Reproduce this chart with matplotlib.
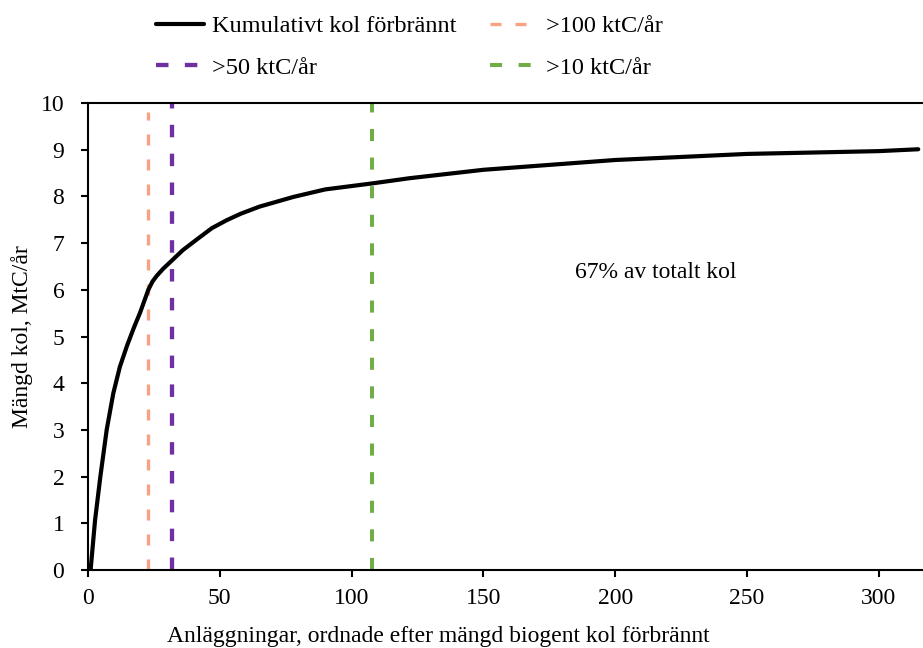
import matplotlib.pyplot as plt

plt.rcParams['font.family'] = ['Liberation Serif', 'DejaVu Serif']
plt.rcParams['font.size'] = 17

# cumulative burned carbon vs facilities (sorted)
anl = [1, 2.7, 4.7, 7.1, 9.6, 12.1, 14.8, 17.5, 19.7, 22.9, 24.5, 26.1, 28.5, 31.7, 36, 41.8, 47, 52.6, 58, 65, 78, 90, 108, 122, 150, 200, 250, 300, 315]
kol = [0, 1.07, 2.0, 3.0, 3.78, 4.35, 4.8, 5.2, 5.5, 6.0, 6.18, 6.3, 6.45, 6.62, 6.85, 7.1, 7.32, 7.49, 7.63, 7.78, 7.99, 8.15, 8.28, 8.39, 8.57, 8.78, 8.91, 8.97, 9.01]

# threshold lines
x100 = 22.6
x50 = 31.9
x10 = 107.7

fig = plt.figure(figsize=(9.23, 6.48), dpi=100)
ax = fig.add_axes([0.0953, 0.1204, 0.9047, 0.7206])

l1, = ax.plot(anl, kol, color='black', lw=3.0, label='Kumulativt kol förbrännt', zorder=5,
              solid_joinstyle='round', solid_capstyle='round')
l2, = ax.plot([x100, x100], [0, 9.8], color='#F8A283', lw=2.4, ls=(0, (3.3, 4.2)), label='>100 ktC/år')
l3, = ax.plot([x50, x50], [0, 10], color='#7030A0', lw=3.1, ls=(0, (2.9, 3.8)), label='>50 ktC/år')
l4, = ax.plot([x10, x10], [0, 10], color='#70AD47', lw=2.9, ls=(0, (3.0, 4.1)), label='>10 ktC/år')

ax.text(215.4, 6.37, '67% av totalt kol', ha='center', va='center')

ax.set_xlim(0, 316.8)
ax.set_ylim(0, 10)
ax.set_xticks([0, 50, 100, 150, 200, 250, 300])
ax.set_yticks(range(0, 11))
ax.spines['right'].set_visible(False)
for s in ['left', 'bottom', 'top']:
    ax.spines[s].set_linewidth(1.5)
ax.tick_params(direction='out', length=5, width=1.5)
ax.tick_params(axis='x', pad=8)
ax.tick_params(axis='y', pad=12)
ax.set_xlabel('Anläggningar, ordnade efter mängd biogent kol förbrännt', va='baseline')
ax.xaxis.set_label_coords(0.42, -0.154)
ax.set_ylabel('Mängd kol, MtC/år')
ax.yaxis.set_label_coords(-0.066, 0.5)

fig.legend([l1, l3, l2, l4], [l1.get_label(), l3.get_label(), l2.get_label(), l4.get_label()],
           ncol=2, loc='upper left', bbox_to_anchor=(0.145, 1.01), frameon=False, fontsize=17.5,
           handlelength=2.0, handletextpad=0.3, columnspacing=1.4, labelspacing=0.8)

plt.savefig('out.png', dpi=100)
